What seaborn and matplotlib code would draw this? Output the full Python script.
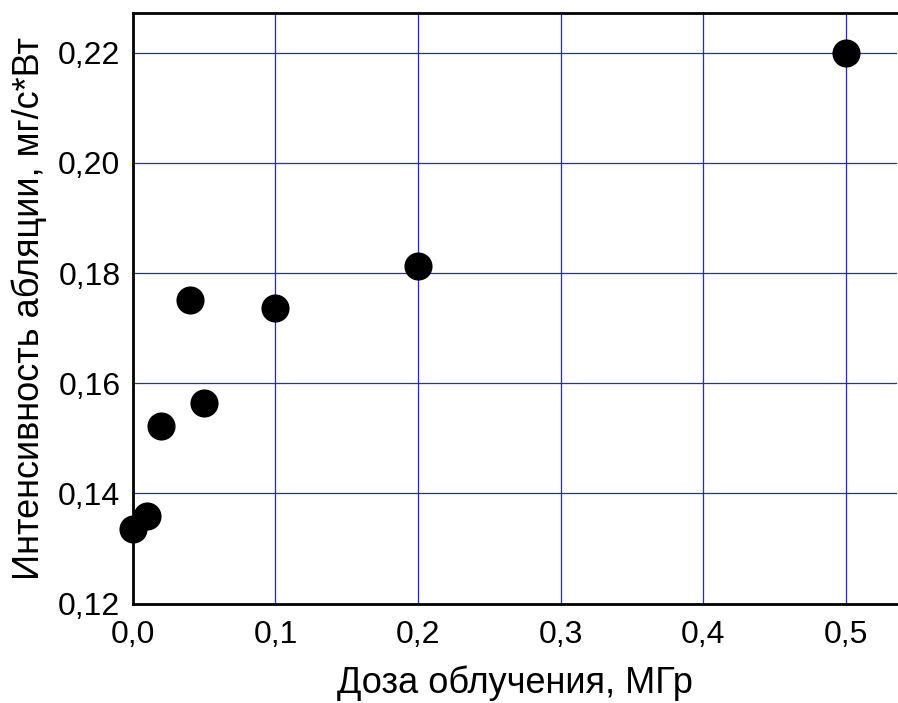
import matplotlib
matplotlib.use("Agg")
import matplotlib.pyplot as plt
import seaborn as sns
import pandas as pd
from matplotlib.ticker import MultipleLocator, FuncFormatter

dose = [0.0, 0.01, 0.02, 0.04, 0.05, 0.10, 0.20, 0.50]
intensity = [0.1335, 0.1359, 0.1522, 0.1751, 0.1564, 0.1736, 0.1813, 0.2199]
xlabel = "Доза облучения, МГр"
ylabel = "Интенсивность абляции, мг/с*Вт"

df = pd.DataFrame({"dose": dose, "intensity": intensity})

sns.set_style("white")
plt.rcParams['font.family'] = ['Liberation Sans', 'DejaVu Sans']
plt.rcParams['text.color'] = 'black'
plt.rcParams['axes.labelcolor'] = 'black'

fig = plt.figure(figsize=(8.98, 7.03), dpi=100)
ax = fig.add_axes([0.148, 0.1415, 0.851, 0.84])

ax.set_xlim(0, 0.536)
ax.set_ylim(0.12, 0.2272)
ax.xaxis.set_major_locator(MultipleLocator(0.1))
ax.xaxis.set_minor_locator(MultipleLocator(0.05))
ax.yaxis.set_major_locator(MultipleLocator(0.02))
ax.yaxis.set_minor_locator(MultipleLocator(0.01))
ax.xaxis.set_major_formatter(FuncFormatter(lambda v, p: f"{v:.1f}".replace(".", ",")))
ax.yaxis.set_major_formatter(FuncFormatter(lambda v, p: f"{v:.2f}".replace(".", ",")))

ax.grid(True, which="major", color="#2222ff", linewidth=0.9)
ax.set_axisbelow(True)

sns.scatterplot(data=df, x="dose", y="intensity", ax=ax, s=410, color="black",
                edgecolor="black", linewidth=0, zorder=5, clip_on=False)

for side in ["left", "bottom", "top"]:
    ax.spines[side].set_visible(True)
    ax.spines[side].set_color("black")
    ax.spines[side].set_linewidth(2)
ax.spines["right"].set_visible(False)

ax.tick_params(axis="both", which="major", direction="in", length=6, width=1.5,
               labelsize=23, colors="black")
ax.tick_params(axis="x", which="major", pad=12)
ax.tick_params(axis="y", which="major", pad=9)
ax.tick_params(axis="both", which="minor", direction="in", length=4, width=1.5)
ax.tick_params(top=False, right=False, which="both")

ax.set_xlabel(xlabel, fontsize=26, labelpad=11)
ax.set_ylabel(ylabel, fontsize=26, labelpad=8)

fig.savefig("out.png", dpi=100)
